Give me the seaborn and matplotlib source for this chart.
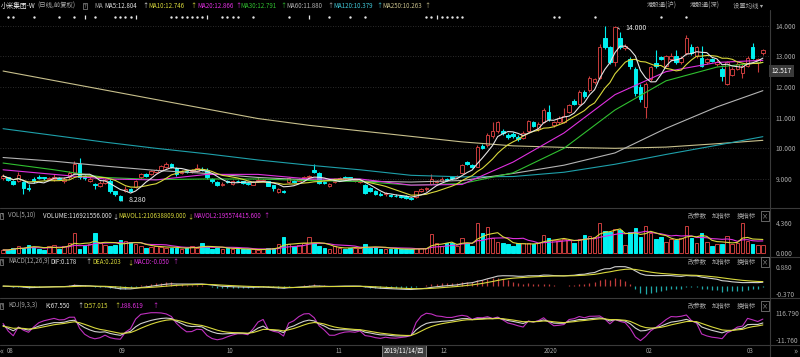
import numpy as np
import pandas as pd
import matplotlib
matplotlib.use("Agg")
import matplotlib.pyplot as plt
import matplotlib.transforms as mtrans
from matplotlib.lines import Line2D
import seaborn as sns

# ---------------- 数据（日线，前复权） ----------------
opens = [9.02, 9.05, 8.95, 8.95, 8.90, 8.72, 9.00, 9.05, 9.05, 9.00,
         9.00, 9.02, 8.92, 9.05, 9.20, 9.50, 9.10, 8.95, 8.85, 8.78,
         8.88, 8.95, 8.60, 8.45, 8.62, 8.68, 8.75, 9.05, 9.15, 9.15,
         9.22, 9.30, 9.38, 9.50, 9.35, 9.20, 9.25, 9.25, 9.25, 9.33,
         9.30, 9.00, 8.90, 8.80, 8.92, 8.85, 8.95, 8.92, 8.88, 8.82,
         8.92, 8.95, 8.92, 8.80, 8.58, 8.62, 8.90, 8.95, 8.95, 9.00,
         9.05, 9.28, 9.20, 8.90, 8.78, 8.90, 8.98, 9.08, 9.05, 8.92,
         8.90, 8.82, 8.72, 8.60, 8.52, 8.50, 8.48, 8.46, 8.44, 8.45,
         8.38, 8.40, 8.60, 8.66, 8.85, 8.90, 8.95, 9.00, 9.05, 9.05,
         9.20, 9.55, 9.45, 9.40, 10.08, 10.10, 10.40, 10.55, 10.55, 10.45,
         10.48, 10.38, 10.35, 10.55, 10.85, 10.62, 10.85, 11.20, 10.75, 10.85,
         10.85, 11.20, 11.55, 11.45, 11.85, 11.90, 12.15, 12.30, 13.60, 13.30,
         12.80, 13.60, 13.28, 12.90, 12.60, 12.00, 11.35, 12.25, 12.78, 12.98,
         12.70, 12.90, 13.00, 12.80, 13.10, 13.30, 13.00, 12.95, 12.80, 12.92,
         12.75, 12.60, 12.10, 12.40, 12.60, 12.45, 12.70, 13.30, 12.80, 13.10]
highs = [9.15, 9.08, 8.97, 9.22, 8.92, 8.85, 9.05, 9.12, 9.08, 9.06,
         9.15, 9.05, 9.05, 9.25, 9.60, 9.70, 9.12, 9.05, 8.88, 8.92,
         9.00, 9.00, 8.62, 8.48, 8.78, 8.72, 8.98, 9.20, 9.18, 9.30,
         9.32, 9.45, 9.55, 9.52, 9.38, 9.28, 9.28, 9.33, 9.48, 9.38,
         9.35, 9.04, 8.94, 8.90, 8.96, 8.96, 8.98, 8.95, 8.90, 8.94,
         9.05, 9.00, 8.95, 8.82, 8.70, 8.65, 9.05, 8.98, 9.02, 9.10,
         9.14, 9.50, 9.22, 8.94, 8.88, 8.98, 9.06, 9.10, 9.08, 8.99,
         8.95, 8.85, 8.75, 8.64, 8.56, 8.56, 8.52, 8.50, 8.48, 8.48,
         8.42, 8.62, 8.70, 8.74, 9.15, 8.98, 9.05, 9.04, 9.08, 9.14,
         9.48, 9.60, 9.50, 10.10, 10.15, 10.50, 10.85, 10.90, 10.62, 10.50,
         10.52, 10.42, 10.55, 10.92, 10.90, 10.85, 11.30, 11.40, 10.90, 11.05,
         11.30, 11.45, 11.60, 11.90, 11.90, 12.35, 12.30, 13.40, 14.00, 13.35,
         14.00, 13.80, 13.40, 12.98, 12.65, 12.10, 12.15, 12.70, 13.20, 13.02,
         13.05, 13.10, 13.20, 13.00, 13.70, 13.40, 13.35, 13.35, 12.95, 12.96,
         12.88, 12.65, 12.85, 12.65, 12.80, 12.75, 13.00, 13.45, 12.95, 13.25]
lows = [8.98, 8.95, 8.82, 8.90, 8.50, 8.62, 8.88, 9.00, 8.98, 8.97,
        8.95, 8.96, 8.88, 9.00, 9.15, 9.00, 8.98, 8.90, 8.68, 8.75,
        8.85, 8.55, 8.45, 8.28, 8.58, 8.58, 8.72, 9.00, 9.05, 9.12,
        9.18, 9.28, 9.35, 9.36, 9.10, 9.16, 9.18, 9.20, 9.22, 9.26,
        9.00, 8.88, 8.76, 8.76, 8.86, 8.82, 8.90, 8.85, 8.80, 8.80,
        8.90, 8.92, 8.76, 8.60, 8.55, 8.55, 8.86, 8.86, 8.92, 8.98,
        9.02, 9.20, 8.85, 8.84, 8.74, 8.86, 8.95, 9.00, 8.97, 8.90,
        8.88, 8.52, 8.56, 8.48, 8.45, 8.46, 8.42, 8.42, 8.38, 8.34,
        8.30, 8.38, 8.56, 8.62, 8.82, 8.86, 8.92, 8.95, 8.98, 9.02,
        9.18, 9.46, 9.36, 9.38, 9.98, 10.05, 10.35, 10.50, 10.45, 10.30,
        10.35, 10.25, 10.32, 10.52, 10.68, 10.58, 10.82, 10.90, 10.70, 10.80,
        10.82, 11.15, 11.40, 11.40, 11.65, 11.85, 12.10, 12.25, 13.25, 12.75,
        12.70, 13.25, 13.20, 12.60, 11.70, 11.50, 11.00, 12.20, 12.62, 12.88,
        12.65, 12.85, 12.75, 12.75, 13.05, 13.05, 12.95, 12.65, 12.75, 12.80,
        12.70, 12.20, 12.05, 12.35, 12.55, 12.30, 12.65, 12.90, 12.50, 13.05]
closes = [9.10, 8.98, 8.85, 9.12, 8.70, 8.68, 8.95, 9.02, 9.02, 9.04,
          9.08, 9.00, 9.00, 9.20, 9.50, 9.05, 9.02, 9.00, 8.80, 8.88,
          8.98, 8.60, 8.50, 8.32, 8.66, 8.62, 8.95, 9.15, 9.10, 9.25,
          9.28, 9.42, 9.50, 9.40, 9.15, 9.24, 9.22, 9.30, 9.35, 9.30,
          9.05, 8.92, 8.80, 8.85, 8.90, 8.92, 8.93, 8.88, 8.84, 8.90,
          8.98, 8.97, 8.78, 8.72, 8.68, 8.58, 9.02, 8.90, 9.00, 9.08,
          9.10, 9.22, 8.88, 8.88, 8.85, 8.95, 9.02, 9.02, 9.00, 8.96,
          8.92, 8.55, 8.60, 8.52, 8.48, 8.53, 8.44, 8.44, 8.42, 8.38,
          8.36, 8.60, 8.66, 8.70, 9.00, 8.95, 9.00, 8.98, 9.02, 9.10,
          9.45, 9.50, 9.40, 10.05, 10.02, 10.45, 10.55, 10.85, 10.50, 10.38,
          10.40, 10.30, 10.50, 10.88, 10.72, 10.80, 11.25, 10.95, 10.85, 11.00,
          11.05, 11.40, 11.45, 11.85, 11.70, 12.30, 12.25, 13.30, 13.30, 12.80,
          13.95, 13.30, 13.32, 12.68, 11.80, 11.60, 12.10, 12.65, 12.70, 12.92,
          13.00, 13.00, 12.80, 12.95, 13.60, 13.10, 13.30, 12.70, 12.90, 12.85,
          12.82, 12.35, 12.80, 12.60, 12.75, 12.70, 12.95, 12.95, 12.90, 13.20]
# 成交量（亿股）
volumes = [0.40, 0.40, 0.72, 0.97, 0.72, 1.10, 0.87, 0.58, 0.39, 0.97,
           1.06, 0.58, 0.97, 1.45, 2.80, 0.58, 1.06, 1.20, 2.80, 1.45,
           1.06, 0.97, 1.06, 1.84, 1.70, 1.55, 1.20, 0.97, 0.72, 0.87,
           0.97, 0.87, 0.72, 0.63, 0.72, 0.58, 0.72, 0.97, 0.72, 1.35,
           0.87, 0.58, 0.72, 0.58, 0.72, 0.58, 0.48, 0.48, 0.48, 0.48,
           0.39, 0.48, 0.72, 0.72, 1.20, 2.30, 1.20, 0.97, 1.06, 1.45,
           2.30, 1.45, 0.97, 0.72, 0.48, 0.97, 0.72, 0.58, 0.72, 0.72,
           0.72, 1.20, 0.72, 0.87, 0.58, 0.58, 0.58, 0.58, 0.48, 0.48,
           0.48, 0.63, 0.63, 0.63, 2.66, 1.35, 0.97, 1.35, 1.35, 0.97,
           2.20, 1.35, 0.97, 4.35, 2.80, 3.70, 2.10, 1.60, 1.45, 1.25,
           0.97, 1.35, 1.45, 1.35, 1.25, 1.35, 2.55, 2.20, 1.84, 1.84,
           1.93, 1.84, 1.45, 1.93, 2.55, 2.40, 2.30, 4.35, 3.20, 3.05,
           3.40, 3.30, 1.10, 3.05, 3.55, 2.30, 3.85, 2.80, 1.93, 2.30,
           1.60, 1.93, 1.84, 2.20, 3.85, 2.20, 1.45, 2.80, 1.60, 0.97,
           1.25, 1.25, 2.40, 1.25, 1.35, 4.36, 1.75, 1.25, 1.10, 1.17]

# 长周期均线（按K线序号读取的节点）
ma_idx = [0, 10, 20, 30, 40, 50, 60, 70, 80, 90, 100, 110, 120, 130, 140, 149]
ma20 = [9.30, 9.15, 9.00, 8.97, 9.15, 9.15, 9.00, 9.00, 8.80, 8.82,
        9.55, 10.50, 11.75, 12.50, 12.80, 12.87]
ma30 = [9.52, 9.30, 9.05, 8.98, 9.00, 9.00, 8.95, 8.92, 8.80, 8.85,
        9.20, 10.00, 11.25, 12.20, 12.65, 12.80]
ma60 = [9.70, 9.58, 9.42, 9.28, 9.18, 9.05, 8.97, 8.93, 8.90, 8.95,
        9.18, 9.45, 9.85, 10.65, 11.35, 11.88]
ma120 = [10.64, 10.42, 10.20, 10.00, 9.82, 9.62, 9.45, 9.30, 9.12, 9.07,
         9.08, 9.22, 9.48, 9.80, 10.10, 10.38]
ma250 = [12.52, 12.21, 11.90, 11.59, 11.28, 10.97, 10.75, 10.57, 10.39, 10.21,
         10.08, 10.03, 10.00, 10.04, 10.15, 10.26]

# 信息地雷标记
star_days = [1, 2, 6, 11, 14, 18, 22, 23, 24, 25, 33, 34, 35, 36, 37, 38, 39,
             43, 44, 45, 46, 49, 56, 64, 68, 71, 83, 84, 86, 87, 88, 89, 90,
             108, 109, 116, 129, 134]
bar_days = [16, 26, 40, 60, 85]

month_labels = ['08', '09', '10', '11', '12', '2020', '02', '03']
month_days = [1.4, 23.4, 44.5, 65.8, 86.5, 107.3, 126.7, 146.5]

price_ticks = [9, 10, 11, 12, 13, 14]
last_price = 12.517

# ---------------- 指标计算 ----------------
df = pd.DataFrame({'o': opens, 'h': highs, 'l': lows, 'c': closes, 'v': volumes})
n = len(df)
idx = np.arange(n)
df['ma5'] = df.c.rolling(5, min_periods=1).mean()
df['ma10'] = df.c.rolling(10, min_periods=1).mean()
df['mavol1'] = df.v.rolling(5, min_periods=1).mean()
df['mavol2'] = df.v.rolling(10, min_periods=1).mean()

ema12 = df.c.ewm(span=12, adjust=False).mean()
ema26 = df.c.ewm(span=26, adjust=False).mean()
df['dif'] = ema12 - ema26
df['dea'] = df.dif.ewm(span=9, adjust=False).mean()
df['macd'] = 2 * (df.dif - df.dea)

llv = df.l.rolling(9, min_periods=1).min()
hhv = df.h.rolling(9, min_periods=1).max()
rsv = ((df.c - llv) / (hhv - llv) * 100).values
K, D = [], []
k, d = 50.0, 50.0
for r in rsv:
    k = (2 * k + r) / 3
    d = (2 * d + k) / 3
    K.append(k)
    D.append(d)
df['k'] = K
df['d'] = D
df['j'] = 3 * df.k - 2 * df.d

# ---------------- 样式 ----------------
sns.set_theme(style="dark", rc={"axes.facecolor": "black", "figure.facecolor": "black",
                                "axes.edgecolor": "black", "axes.grid": False})
plt.rcParams['font.family'] = ['Noto Sans CJK SC', 'DejaVu Sans']
plt.rcParams['axes.unicode_minus'] = False

RED = '#c83c3c'
CYAN = '#00f0f0'
GREY_TXT = '#a8a8a8'
WHITE_TXT = '#e8e8e8'
C_MA5 = '#e4e4e4'
C_MA10 = '#d8d83c'
C_MA20 = '#e030e0'
C_MA30 = '#30c030'
C_MA60 = '#b4b4b4'
C_MA120 = '#1ea0aa'
C_MA250 = '#c8c08c'
FS = 4.4      # 小号文字

W, H = 800, 357
fig = plt.figure(figsize=(8, 3.57), dpi=100)


def px_axes(x0, y0, x1, y1):
    return fig.add_axes([x0 / W, 1 - y1 / H, (x1 - x0) / W, (y1 - y0) / H])


def ptext(x, y, s, color, size=FS, **kw):
    fig.text(x / W, 1 - y / H, s, color=color, fontsize=size, va='center', ha='left', **kw)


ax_p = px_axes(0, 10, 770, 208)
ax_v = px_axes(0, 208, 770, 257)
ax_m = px_axes(0, 257, 770, 298)
ax_k = px_axes(0, 298, 770, 345)

XL = (-0.6, 150.4)
for ax in (ax_p, ax_v, ax_m, ax_k):
    ax.set_facecolor('black')
    ax.set_xlim(*XL)
    for s in ax.spines.values():
        s.set_visible(False)
    ax.yaxis.tick_right()
    ax.tick_params(axis='y', length=0, pad=4, labelsize=4.8, colors=GREY_TXT)
    ax.tick_params(axis='x', bottom=False, labelbottom=False)

up = df.c >= df.o
cols = np.where(up, RED, CYAN)

# ---- 主图 K线 ----
ax_p.set_ylim(8.054, 14.51)
ax_p.hlines(price_ticks, XL[0], XL[1], colors='#3a3a3a', linestyles=(0, (1, 2)), lw=0.6, zorder=0)
ax_p.vlines(idx, df.l, df.h, colors=cols, lw=0.8, zorder=2)
body_lo = np.minimum(df.o, df.c)
body_h = np.maximum(np.abs(df.c - df.o), 0.012)
ax_p.bar(idx, body_h, bottom=body_lo, width=0.7, color=np.where(up, 'black', CYAN),
         edgecolor=cols, linewidth=0.7, zorder=3)

for vals, c in [(ma250, C_MA250), (ma120, C_MA120), (ma60, C_MA60),
                (ma30, C_MA30), (ma20, C_MA20)]:
    sns.lineplot(x=ma_idx, y=vals, ax=ax_p, color=c, lw=0.8, zorder=4)
sns.lineplot(x=idx, y=df.ma10, ax=ax_p, color=C_MA10, lw=0.8, zorder=4)
sns.lineplot(x=idx, y=df.ma5, ax=ax_p, color=C_MA5, lw=0.8, zorder=4)
ax_p.set_yticks(price_ticks)
ax_p.set_yticklabels([f'{t:.3f}' for t in price_ticks])
ax_p.set_xlabel('')
ax_p.set_ylabel('')

tr = mtrans.blended_transform_factory(ax_p.transData, ax_p.transAxes)
ax_p.scatter(star_days, [0.965] * len(star_days), transform=tr, s=3, color='#e6e6e6',
             marker='o', linewidths=0, clip_on=False)
ax_p.scatter(bar_days, [0.965] * len(bar_days), transform=tr, s=8, color='#e6e6e6',
             marker='|', linewidths=0.9, clip_on=False)

ax_p.annotate('8.280', xy=(23.3, 8.28), xytext=(24.6, 8.33), color=WHITE_TXT, fontsize=5,
              va='center', arrowprops=dict(arrowstyle='-', color=WHITE_TXT, lw=0.6))
ax_p.annotate('14.000', xy=(120.2, 14.0), xytext=(122.0, 13.93), color=WHITE_TXT, fontsize=5,
              va='center', arrowprops=dict(arrowstyle='-', color=WHITE_TXT, lw=0.6,
                                           connectionstyle='arc3,rad=-0.5'))
trp = mtrans.blended_transform_factory(ax_p.transAxes, ax_p.transData)
ax_p.text(1.002, last_price, f'{last_price:.3f}', transform=trp, ha='left', va='center',
          fontsize=4.8, color='white', clip_on=False,
          bbox=dict(boxstyle='square,pad=0.35', fc='#3a3a3a', ec='none'))

# ---- 成交量 ----
ax_v.set_ylim(-0.625, 6.5)
ax_v.bar(idx, volumes, width=0.7, color=np.where(up, 'black', CYAN), edgecolor=cols,
         linewidth=0.7, zorder=2)
sns.lineplot(x=idx, y=df.mavol2, ax=ax_v, color=C_MA20, lw=0.8, zorder=3)
sns.lineplot(x=idx, y=df.mavol1, ax=ax_v, color=C_MA10, lw=0.8, zorder=3)
ax_v.set_yticks([0, 4.36])
ax_v.set_yticklabels(['0.000', '4.360'])
ax_v.set_xlabel('')
ax_v.set_ylabel('')

# ---- MACD ----
ax_m.set_ylim(-0.538, 1.319)
ax_m.vlines(idx, 0, df.macd, colors=np.where(df.macd >= 0, '#c03c3c', '#20aaaa'), lw=0.9)
sns.lineplot(x=idx, y=df.dif, ax=ax_m, color='#d0d0d0', lw=0.8)
sns.lineplot(x=idx, y=df.dea, ax=ax_m, color=C_MA10, lw=0.8)
ax_m.set_yticks([-0.37, 0.88])
ax_m.set_yticklabels(['-0.370', '0.880'])
ax_m.set_xlabel('')
ax_m.set_ylabel('')

# ---- KDJ ----
ax_k.set_ylim(-35.3, 186.0)
sns.lineplot(x=idx, y=df.j, ax=ax_k, color='#c030c0', lw=0.8)
sns.lineplot(x=idx, y=df.k, ax=ax_k, color='#d0d0d0', lw=0.8)
sns.lineplot(x=idx, y=df.d, ax=ax_k, color=C_MA10, lw=0.8)
ax_k.set_yticks([-11.76, 116.79])
ax_k.set_yticklabels(['-11.760', '116.790'])
ax_k.set_xlabel('')
ax_k.set_ylabel('')

# ---- 日期轴 ----
trk = mtrans.blended_transform_factory(ax_k.transData, ax_k.transAxes)
for lab, pos in zip(month_labels, month_days):
    ax_k.text(pos, -0.128, lab, transform=trk, ha='center', va='center', fontsize=FS,
              color=GREY_TXT, clip_on=False)
ax_k.text(74.6, -0.128, '2019/11/14/四', transform=trk, ha='left', va='center', fontsize=FS,
          color='white', clip_on=False,
          bbox=dict(boxstyle='square,pad=0.3', fc='#3c3c3c', ec='#8c8c8c', lw=0.6))
ptext(0, 351, '«', GREY_TXT, size=6)
ptext(793, 351, '»', GREY_TXT, size=6)

# ---- 分隔线 ----
for yy in (208, 257, 298, 345):
    fig.add_artist(Line2D([0, 1], [1 - yy / H] * 2, color='#3a3a3a', lw=0.8))
fig.add_artist(Line2D([770 / W] * 2, [1 - 10 / H, 0], color='#3a3a3a', lw=0.8))

# ---- 标题栏 ----
ptext(1, 6, '小米集团-W', WHITE_TXT, size=4.8)
ptext(37, 6, '(日线,前复权)', GREY_TXT, size=4.6)
ptext(84, 6, '?', GREY_TXT, size=4, bbox=dict(boxstyle='square,pad=0.15', fc='none', ec='#8c8c8c', lw=0.5))
ptext(94, 6, 'MA', GREY_TXT)
head = [(104, 142, 'MA5:12.804', C_MA5), (148, 190, 'MA10:12.746', C_MA10),
        (197, 235, 'MA20:12.866', C_MA20), (240, 280, 'MA30:12.791', C_MA30),
        (286, 327, 'MA60:11.880', C_MA60), (333, 376, 'MA120:10.379', '#40c8d8'),
        (382, 424, 'MA250:10.263', C_MA250)]
for x, xa, s, c in head:
    ptext(x, 6, s, c)
    ptext(xa, 6, '↑', c)
ptext(647, 6, '港股通(沪)', GREY_TXT, size=4.6)
ptext(690, 6, '港股通(深)', GREY_TXT, size=4.6)
ptext(733, 6, '设置均线 ▾', GREY_TXT, size=4.6)

# ---- 副图标题 ----
rows = [
    (216, [(8, 'VOL(5,10)', GREY_TXT), (43, 'VOLUME:116921556.000', WHITE_TXT),
           (112, '↓', WHITE_TXT), (118, 'MAVOL1:210638809.000', C_MA10), (187, '↓', C_MA10),
           (193, 'MAVOL2:195574415.600', C_MA20), (263, '↑', C_MA20)]),
    (262, [(8, 'MACD(12,26,9)', GREY_TXT), (50, 'DIF:0.178', WHITE_TXT), (85, '↑', WHITE_TXT),
           (92, 'DEA:0.203', C_MA10), (127, '↓', C_MA10), (133, 'MACD:-0.050', C_MA20),
           (172, '↑', C_MA20)]),
    (306, [(8, 'KDJ(9,3,3)', GREY_TXT), (45, 'K:67.550', WHITE_TXT), (77, '↑', WHITE_TXT),
           (83, 'D:57.015', C_MA10), (114, '↑', C_MA10), (120, 'J:88.619', C_MA20),
           (152, '↑', C_MA20)]),
]
for yy, items in rows:
    ptext(0.5, yy, '?', GREY_TXT, size=3.6, bbox=dict(boxstyle='square,pad=0.1', fc='none', ec='#8c8c8c', lw=0.5))
    for x, s, c in items:
        ptext(x, yy, s, c)
    ptext(688, yy, '改参数', GREY_TXT, size=4.6)
    ptext(712, yy, '加指标', GREY_TXT, size=4.6)
    ptext(737, yy, '换指标', GREY_TXT, size=4.6)
    ptext(762, yy, '×', GREY_TXT, size=4.4, bbox=dict(boxstyle='square,pad=0.1', fc='none', ec='#8c8c8c', lw=0.5))

fig.savefig('out.png', dpi=100, facecolor='black')
